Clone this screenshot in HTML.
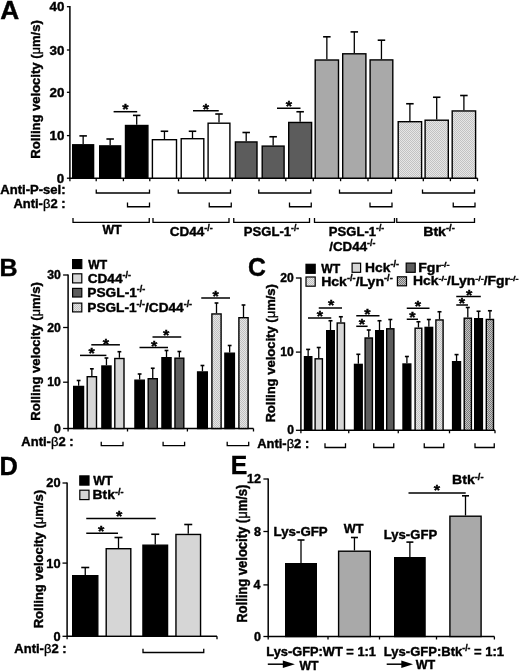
<!DOCTYPE html>
<html><head><meta charset="utf-8"><title>Rolling velocity figure</title>
<style>html,body{margin:0;padding:0;background:#fff;width:520px;height:671px;overflow:hidden}</style>
</head><body>
<svg width="520" height="671" viewBox="0 0 520 671" font-family='"Liberation Sans", Arial, Helvetica, sans-serif' style="display:block">
<defs>
<pattern id="pl" width="2" height="2" patternUnits="userSpaceOnUse"><rect width="2" height="2" fill="#e6e6e6"/><rect width="1" height="1" fill="#c2c2c2"/><rect x="1" y="1" width="1" height="1" fill="#c2c2c2"/></pattern>
<pattern id="pd" width="2" height="2" patternUnits="userSpaceOnUse"><rect width="2" height="2" fill="#c4c4c4"/><rect width="1" height="1" fill="#7a7a7a"/><rect x="1" y="1" width="1" height="1" fill="#7a7a7a"/></pattern>
</defs>
<rect width="520" height="671" fill="#fff"/>
<line x1="69.90" y1="6.10" x2="69.90" y2="178.90" stroke="#000" stroke-width="1.5"/>
<line x1="66.90" y1="6.70" x2="69.90" y2="6.70" stroke="#000" stroke-width="1.3"/>
<line x1="66.90" y1="50.00" x2="69.90" y2="50.00" stroke="#000" stroke-width="1.3"/>
<line x1="66.90" y1="92.30" x2="69.90" y2="92.30" stroke="#000" stroke-width="1.3"/>
<line x1="66.90" y1="135.60" x2="69.90" y2="135.60" stroke="#000" stroke-width="1.3"/>
<line x1="66.90" y1="178.20" x2="69.90" y2="178.20" stroke="#000" stroke-width="1.3"/>
<line x1="69.90" y1="178.20" x2="477.50" y2="178.20" stroke="#000" stroke-width="1.5"/>
<line x1="96.20" y1="178.20" x2="96.20" y2="181.20" stroke="#000" stroke-width="1.3"/>
<line x1="123.40" y1="178.20" x2="123.40" y2="181.20" stroke="#000" stroke-width="1.3"/>
<line x1="149.80" y1="178.20" x2="149.80" y2="181.20" stroke="#000" stroke-width="1.3"/>
<line x1="178.60" y1="178.20" x2="178.60" y2="181.20" stroke="#000" stroke-width="1.3"/>
<line x1="205.60" y1="178.20" x2="205.60" y2="181.20" stroke="#000" stroke-width="1.3"/>
<line x1="232.30" y1="178.20" x2="232.30" y2="181.20" stroke="#000" stroke-width="1.3"/>
<line x1="259.10" y1="178.20" x2="259.10" y2="181.20" stroke="#000" stroke-width="1.3"/>
<line x1="285.80" y1="178.20" x2="285.80" y2="181.20" stroke="#000" stroke-width="1.3"/>
<line x1="313.30" y1="178.20" x2="313.30" y2="181.20" stroke="#000" stroke-width="1.3"/>
<line x1="340.60" y1="178.20" x2="340.60" y2="181.20" stroke="#000" stroke-width="1.3"/>
<line x1="368.00" y1="178.20" x2="368.00" y2="181.20" stroke="#000" stroke-width="1.3"/>
<line x1="395.50" y1="178.20" x2="395.50" y2="181.20" stroke="#000" stroke-width="1.3"/>
<line x1="423.30" y1="178.20" x2="423.30" y2="181.20" stroke="#000" stroke-width="1.3"/>
<line x1="450.40" y1="178.20" x2="450.40" y2="181.20" stroke="#000" stroke-width="1.3"/>
<line x1="477.50" y1="178.20" x2="477.50" y2="181.20" stroke="#000" stroke-width="1.3"/>
<line x1="69.90" y1="178.20" x2="69.90" y2="181.20" stroke="#000" stroke-width="1.3"/>
<line x1="83.15" y1="144.10" x2="83.15" y2="135.90" stroke="#000" stroke-width="1.3"/>
<line x1="79.40" y1="135.90" x2="86.90" y2="135.90" stroke="#000" stroke-width="1.6"/>
<rect x="72.70" y="144.80" width="20.90" height="33.40" fill="#000" stroke="#000" stroke-width="1.4"/>
<line x1="110.15" y1="145.20" x2="110.15" y2="139.00" stroke="#000" stroke-width="1.3"/>
<line x1="106.40" y1="139.00" x2="113.90" y2="139.00" stroke="#000" stroke-width="1.6"/>
<rect x="99.70" y="145.90" width="20.90" height="32.30" fill="#000" stroke="#000" stroke-width="1.4"/>
<line x1="136.70" y1="124.80" x2="136.70" y2="115.40" stroke="#000" stroke-width="1.3"/>
<line x1="132.95" y1="115.40" x2="140.45" y2="115.40" stroke="#000" stroke-width="1.6"/>
<rect x="125.50" y="125.50" width="22.40" height="52.70" fill="#000" stroke="#000" stroke-width="1.4"/>
<line x1="164.45" y1="139.00" x2="164.45" y2="131.25" stroke="#000" stroke-width="1.3"/>
<line x1="160.70" y1="131.25" x2="168.20" y2="131.25" stroke="#000" stroke-width="1.6"/>
<rect x="152.40" y="139.70" width="24.10" height="38.50" fill="#fff" stroke="#000" stroke-width="1.4"/>
<line x1="192.50" y1="138.00" x2="192.50" y2="131.25" stroke="#000" stroke-width="1.3"/>
<line x1="188.75" y1="131.25" x2="196.25" y2="131.25" stroke="#000" stroke-width="1.6"/>
<rect x="181.20" y="138.70" width="22.60" height="39.50" fill="#fff" stroke="#000" stroke-width="1.4"/>
<line x1="219.00" y1="122.50" x2="219.00" y2="114.00" stroke="#000" stroke-width="1.3"/>
<line x1="215.25" y1="114.00" x2="222.75" y2="114.00" stroke="#000" stroke-width="1.6"/>
<rect x="208.10" y="123.20" width="21.80" height="55.00" fill="#fff" stroke="#000" stroke-width="1.4"/>
<line x1="246.20" y1="141.25" x2="246.20" y2="132.50" stroke="#000" stroke-width="1.3"/>
<line x1="242.45" y1="132.50" x2="249.95" y2="132.50" stroke="#000" stroke-width="1.6"/>
<rect x="235.40" y="141.95" width="21.60" height="36.25" fill="#5c5c5c" stroke="#000" stroke-width="1.4"/>
<line x1="273.15" y1="145.40" x2="273.15" y2="136.75" stroke="#000" stroke-width="1.3"/>
<line x1="269.40" y1="136.75" x2="276.90" y2="136.75" stroke="#000" stroke-width="1.6"/>
<rect x="262.20" y="146.10" width="21.90" height="32.10" fill="#5c5c5c" stroke="#000" stroke-width="1.4"/>
<line x1="300.15" y1="121.75" x2="300.15" y2="111.75" stroke="#000" stroke-width="1.3"/>
<line x1="296.40" y1="111.75" x2="303.90" y2="111.75" stroke="#000" stroke-width="1.6"/>
<rect x="288.70" y="122.45" width="22.90" height="55.75" fill="#5c5c5c" stroke="#000" stroke-width="1.4"/>
<line x1="326.85" y1="59.30" x2="326.85" y2="36.80" stroke="#000" stroke-width="1.3"/>
<line x1="323.10" y1="36.80" x2="330.60" y2="36.80" stroke="#000" stroke-width="1.6"/>
<rect x="315.20" y="60.00" width="23.30" height="118.20" fill="#a9a9a9" stroke="#000" stroke-width="1.4"/>
<line x1="354.30" y1="53.10" x2="354.30" y2="31.90" stroke="#000" stroke-width="1.3"/>
<line x1="350.55" y1="31.90" x2="358.05" y2="31.90" stroke="#000" stroke-width="1.6"/>
<rect x="342.70" y="53.80" width="23.20" height="124.40" fill="#a9a9a9" stroke="#000" stroke-width="1.4"/>
<line x1="381.45" y1="59.20" x2="381.45" y2="40.20" stroke="#000" stroke-width="1.3"/>
<line x1="377.70" y1="40.20" x2="385.20" y2="40.20" stroke="#000" stroke-width="1.6"/>
<rect x="370.10" y="59.90" width="22.70" height="118.30" fill="#a9a9a9" stroke="#000" stroke-width="1.4"/>
<line x1="409.90" y1="121.00" x2="409.90" y2="103.75" stroke="#000" stroke-width="1.3"/>
<line x1="406.15" y1="103.75" x2="413.65" y2="103.75" stroke="#000" stroke-width="1.6"/>
<rect x="398.20" y="121.70" width="23.40" height="56.50" fill="url(#pl)" stroke="#000" stroke-width="1.4"/>
<line x1="436.70" y1="119.50" x2="436.70" y2="97.25" stroke="#000" stroke-width="1.3"/>
<line x1="432.95" y1="97.25" x2="440.45" y2="97.25" stroke="#000" stroke-width="1.6"/>
<rect x="425.10" y="120.20" width="23.20" height="58.00" fill="url(#pl)" stroke="#000" stroke-width="1.4"/>
<line x1="463.90" y1="110.25" x2="463.90" y2="95.50" stroke="#000" stroke-width="1.3"/>
<line x1="460.15" y1="95.50" x2="467.65" y2="95.50" stroke="#000" stroke-width="1.6"/>
<rect x="452.20" y="110.95" width="23.40" height="67.25" fill="url(#pl)" stroke="#000" stroke-width="1.4"/>
<line x1="113.60" y1="111.70" x2="137.20" y2="111.70" stroke="#000" stroke-width="1.5"/>
<line x1="193.00" y1="110.75" x2="218.75" y2="110.75" stroke="#000" stroke-width="1.5"/>
<line x1="277.00" y1="108.25" x2="300.50" y2="108.25" stroke="#000" stroke-width="1.5"/>
<path d="M96.25,189.50 V193.00 H149.50 V189.50" stroke="#000" stroke-width="1.3" fill="none"/>
<path d="M178.25,189.50 V193.00 H230.50 V189.50" stroke="#000" stroke-width="1.3" fill="none"/>
<path d="M258.75,189.50 V193.00 H310.75 V189.50" stroke="#000" stroke-width="1.3" fill="none"/>
<path d="M339.50,189.50 V193.00 H391.50 V189.50" stroke="#000" stroke-width="1.3" fill="none"/>
<path d="M422.50,189.50 V193.00 H474.50 V189.50" stroke="#000" stroke-width="1.3" fill="none"/>
<path d="M127.50,202.55 V206.75 H149.50 V202.55" stroke="#000" stroke-width="1.3" fill="none"/>
<path d="M209.25,202.55 V206.75 H231.25 V202.55" stroke="#000" stroke-width="1.3" fill="none"/>
<path d="M289.50,202.55 V206.75 H311.25 V202.55" stroke="#000" stroke-width="1.3" fill="none"/>
<path d="M370.00,202.55 V206.75 H392.00 V202.55" stroke="#000" stroke-width="1.3" fill="none"/>
<path d="M453.25,202.55 V206.75 H475.00 V202.55" stroke="#000" stroke-width="1.3" fill="none"/>
<path d="M73.00,218.10 V222.30 H149.25 V218.10" stroke="#000" stroke-width="1.3" fill="none"/>
<path d="M153.00,218.10 V222.30 H229.00 V218.10" stroke="#000" stroke-width="1.3" fill="none"/>
<path d="M233.75,218.10 V222.30 H309.50 V218.10" stroke="#000" stroke-width="1.3" fill="none"/>
<path d="M314.50,218.10 V222.30 H394.50 V218.10" stroke="#000" stroke-width="1.3" fill="none"/>
<path d="M396.75,218.10 V222.30 H474.50 V218.10" stroke="#000" stroke-width="1.3" fill="none"/>
<line x1="68.10" y1="274.40" x2="68.10" y2="429.20" stroke="#000" stroke-width="1.5"/>
<line x1="63.10" y1="275.00" x2="68.10" y2="275.00" stroke="#000" stroke-width="1.3"/>
<line x1="63.10" y1="327.50" x2="68.10" y2="327.50" stroke="#000" stroke-width="1.3"/>
<line x1="63.10" y1="382.20" x2="68.10" y2="382.20" stroke="#000" stroke-width="1.3"/>
<line x1="63.10" y1="428.50" x2="68.10" y2="428.50" stroke="#000" stroke-width="1.3"/>
<line x1="68.10" y1="428.50" x2="253.50" y2="428.50" stroke="#000" stroke-width="1.5"/>
<line x1="127.50" y1="428.50" x2="127.50" y2="431.50" stroke="#000" stroke-width="1.3"/>
<line x1="187.40" y1="428.50" x2="187.40" y2="431.50" stroke="#000" stroke-width="1.3"/>
<line x1="253.50" y1="428.50" x2="253.50" y2="431.50" stroke="#000" stroke-width="1.3"/>
<line x1="68.10" y1="428.50" x2="68.10" y2="431.50" stroke="#000" stroke-width="1.3"/>
<rect x="72.60" y="259.60" width="9.20" height="8.90" fill="#000" stroke="#000" stroke-width="1.2"/>
<rect x="72.60" y="273.80" width="9.20" height="9.10" fill="#d6d6d6" stroke="#000" stroke-width="1.2"/>
<rect x="72.60" y="288.40" width="9.20" height="8.60" fill="#5c5c5c" stroke="#000" stroke-width="1.2"/>
<rect x="72.60" y="303.10" width="9.20" height="8.80" fill="url(#pl)" stroke="#000" stroke-width="1.2"/>
<line x1="78.62" y1="385.75" x2="78.62" y2="380.50" stroke="#000" stroke-width="1.3"/>
<line x1="76.72" y1="380.50" x2="80.53" y2="380.50" stroke="#000" stroke-width="1.6"/>
<rect x="73.70" y="386.45" width="9.85" height="42.05" fill="#000" stroke="#000" stroke-width="1.4"/>
<line x1="91.85" y1="376.00" x2="91.85" y2="368.80" stroke="#000" stroke-width="1.3"/>
<line x1="89.95" y1="368.80" x2="93.75" y2="368.80" stroke="#000" stroke-width="1.6"/>
<rect x="87.20" y="376.70" width="9.30" height="51.80" fill="#d6d6d6" stroke="#000" stroke-width="1.4"/>
<line x1="106.45" y1="365.30" x2="106.45" y2="358.00" stroke="#000" stroke-width="1.3"/>
<line x1="104.55" y1="358.00" x2="108.35" y2="358.00" stroke="#000" stroke-width="1.6"/>
<rect x="101.90" y="366.00" width="9.10" height="62.50" fill="#000" stroke="#000" stroke-width="1.4"/>
<line x1="119.40" y1="357.80" x2="119.40" y2="351.70" stroke="#000" stroke-width="1.3"/>
<line x1="117.50" y1="351.70" x2="121.30" y2="351.70" stroke="#000" stroke-width="1.6"/>
<rect x="114.80" y="358.50" width="9.20" height="70.00" fill="#d6d6d6" stroke="#000" stroke-width="1.4"/>
<line x1="139.62" y1="379.50" x2="139.62" y2="374.00" stroke="#000" stroke-width="1.3"/>
<line x1="137.72" y1="374.00" x2="141.53" y2="374.00" stroke="#000" stroke-width="1.6"/>
<rect x="134.95" y="380.20" width="9.35" height="48.30" fill="#000" stroke="#000" stroke-width="1.4"/>
<line x1="152.75" y1="378.00" x2="152.75" y2="368.25" stroke="#000" stroke-width="1.3"/>
<line x1="150.85" y1="368.25" x2="154.65" y2="368.25" stroke="#000" stroke-width="1.6"/>
<rect x="148.20" y="378.70" width="9.10" height="49.80" fill="#5c5c5c" stroke="#000" stroke-width="1.4"/>
<line x1="166.50" y1="357.00" x2="166.50" y2="350.50" stroke="#000" stroke-width="1.3"/>
<line x1="164.60" y1="350.50" x2="168.40" y2="350.50" stroke="#000" stroke-width="1.6"/>
<rect x="161.95" y="357.70" width="9.10" height="70.80" fill="#000" stroke="#000" stroke-width="1.4"/>
<line x1="179.38" y1="357.50" x2="179.38" y2="351.50" stroke="#000" stroke-width="1.3"/>
<line x1="177.47" y1="351.50" x2="181.28" y2="351.50" stroke="#000" stroke-width="1.6"/>
<rect x="174.95" y="358.20" width="8.85" height="70.30" fill="#5c5c5c" stroke="#000" stroke-width="1.4"/>
<line x1="202.45" y1="371.25" x2="202.45" y2="365.50" stroke="#000" stroke-width="1.3"/>
<line x1="200.55" y1="365.50" x2="204.35" y2="365.50" stroke="#000" stroke-width="1.6"/>
<rect x="197.60" y="371.95" width="9.70" height="56.55" fill="#000" stroke="#000" stroke-width="1.4"/>
<line x1="216.50" y1="313.25" x2="216.50" y2="303.00" stroke="#000" stroke-width="1.3"/>
<line x1="214.60" y1="303.00" x2="218.40" y2="303.00" stroke="#000" stroke-width="1.6"/>
<rect x="211.90" y="313.95" width="9.20" height="114.55" fill="url(#pl)" stroke="#000" stroke-width="1.4"/>
<line x1="229.65" y1="352.50" x2="229.65" y2="345.50" stroke="#000" stroke-width="1.3"/>
<line x1="227.75" y1="345.50" x2="231.55" y2="345.50" stroke="#000" stroke-width="1.6"/>
<rect x="224.90" y="353.20" width="9.50" height="75.30" fill="#000" stroke="#000" stroke-width="1.4"/>
<line x1="243.50" y1="317.00" x2="243.50" y2="305.00" stroke="#000" stroke-width="1.3"/>
<line x1="241.60" y1="305.00" x2="245.40" y2="305.00" stroke="#000" stroke-width="1.6"/>
<rect x="238.90" y="317.70" width="9.20" height="110.80" fill="url(#pl)" stroke="#000" stroke-width="1.4"/>
<line x1="80.00" y1="355.40" x2="106.40" y2="355.40" stroke="#000" stroke-width="1.5"/>
<line x1="91.30" y1="344.80" x2="119.90" y2="344.80" stroke="#000" stroke-width="1.5"/>
<line x1="139.50" y1="347.50" x2="168.00" y2="347.50" stroke="#000" stroke-width="1.5"/>
<line x1="152.50" y1="337.00" x2="181.25" y2="337.00" stroke="#000" stroke-width="1.5"/>
<line x1="201.25" y1="298.00" x2="230.00" y2="298.00" stroke="#000" stroke-width="1.5"/>
<path d="M101.25,441.70 V445.70 H123.00 V441.70" stroke="#000" stroke-width="1.3" fill="none"/>
<path d="M163.10,441.70 V445.70 H184.60 V441.70" stroke="#000" stroke-width="1.3" fill="none"/>
<path d="M227.20,441.70 V445.70 H248.70 V441.70" stroke="#000" stroke-width="1.3" fill="none"/>
<line x1="300.90" y1="277.40" x2="300.90" y2="431.00" stroke="#000" stroke-width="1.5"/>
<line x1="295.90" y1="278.00" x2="300.90" y2="278.00" stroke="#000" stroke-width="1.3"/>
<line x1="295.90" y1="352.10" x2="300.90" y2="352.10" stroke="#000" stroke-width="1.3"/>
<line x1="295.90" y1="430.30" x2="300.90" y2="430.30" stroke="#000" stroke-width="1.3"/>
<line x1="300.90" y1="430.30" x2="495.00" y2="430.30" stroke="#000" stroke-width="1.5"/>
<line x1="348.75" y1="430.30" x2="348.75" y2="433.30" stroke="#000" stroke-width="1.3"/>
<line x1="398.25" y1="430.30" x2="398.25" y2="433.30" stroke="#000" stroke-width="1.3"/>
<line x1="449.50" y1="430.30" x2="449.50" y2="433.30" stroke="#000" stroke-width="1.3"/>
<line x1="495.00" y1="430.30" x2="495.00" y2="433.30" stroke="#000" stroke-width="1.3"/>
<line x1="300.90" y1="430.30" x2="300.90" y2="433.30" stroke="#000" stroke-width="1.3"/>
<rect x="306.00" y="264.30" width="9.20" height="9.00" fill="#000" stroke="#000" stroke-width="1.2"/>
<rect x="352.10" y="263.20" width="8.50" height="9.10" fill="#d6d6d6" stroke="#000" stroke-width="1.2"/>
<rect x="406.20" y="263.10" width="9.00" height="9.20" fill="#5c5c5c" stroke="#000" stroke-width="1.2"/>
<rect x="306.00" y="277.00" width="9.20" height="9.20" fill="url(#pl)" stroke="#000" stroke-width="1.2"/>
<rect x="397.40" y="276.80" width="9.10" height="9.00" fill="url(#pd)" stroke="#000" stroke-width="1.2"/>
<line x1="308.15" y1="356.00" x2="308.15" y2="349.40" stroke="#000" stroke-width="1.3"/>
<line x1="306.15" y1="349.40" x2="310.15" y2="349.40" stroke="#000" stroke-width="1.6"/>
<rect x="304.50" y="356.70" width="7.30" height="73.60" fill="#000" stroke="#000" stroke-width="1.4"/>
<line x1="318.75" y1="358.10" x2="318.75" y2="347.50" stroke="#000" stroke-width="1.3"/>
<line x1="316.75" y1="347.50" x2="320.75" y2="347.50" stroke="#000" stroke-width="1.6"/>
<rect x="315.10" y="358.80" width="7.30" height="71.50" fill="#d6d6d6" stroke="#000" stroke-width="1.4"/>
<line x1="330.50" y1="330.00" x2="330.50" y2="320.75" stroke="#000" stroke-width="1.3"/>
<line x1="328.50" y1="320.75" x2="332.50" y2="320.75" stroke="#000" stroke-width="1.6"/>
<rect x="326.70" y="330.70" width="7.60" height="99.60" fill="#000" stroke="#000" stroke-width="1.4"/>
<line x1="340.85" y1="322.30" x2="340.85" y2="316.75" stroke="#000" stroke-width="1.3"/>
<line x1="338.85" y1="316.75" x2="342.85" y2="316.75" stroke="#000" stroke-width="1.6"/>
<rect x="337.20" y="323.00" width="7.30" height="107.30" fill="#d6d6d6" stroke="#000" stroke-width="1.4"/>
<line x1="358.35" y1="363.70" x2="358.35" y2="354.30" stroke="#000" stroke-width="1.3"/>
<line x1="356.35" y1="354.30" x2="360.35" y2="354.30" stroke="#000" stroke-width="1.6"/>
<rect x="354.50" y="364.40" width="7.70" height="65.90" fill="#000" stroke="#000" stroke-width="1.4"/>
<line x1="368.75" y1="337.30" x2="368.75" y2="330.00" stroke="#000" stroke-width="1.3"/>
<line x1="366.75" y1="330.00" x2="370.75" y2="330.00" stroke="#000" stroke-width="1.6"/>
<rect x="365.10" y="338.00" width="7.30" height="92.30" fill="#5c5c5c" stroke="#000" stroke-width="1.4"/>
<line x1="379.50" y1="330.00" x2="379.50" y2="320.75" stroke="#000" stroke-width="1.3"/>
<line x1="377.50" y1="320.75" x2="381.50" y2="320.75" stroke="#000" stroke-width="1.6"/>
<rect x="375.70" y="330.70" width="7.60" height="99.60" fill="#000" stroke="#000" stroke-width="1.4"/>
<line x1="390.30" y1="328.10" x2="390.30" y2="319.50" stroke="#000" stroke-width="1.3"/>
<line x1="388.30" y1="319.50" x2="392.30" y2="319.50" stroke="#000" stroke-width="1.6"/>
<rect x="386.70" y="328.80" width="7.20" height="101.50" fill="#5c5c5c" stroke="#000" stroke-width="1.4"/>
<line x1="406.90" y1="363.30" x2="406.90" y2="356.50" stroke="#000" stroke-width="1.3"/>
<line x1="404.90" y1="356.50" x2="408.90" y2="356.50" stroke="#000" stroke-width="1.6"/>
<rect x="403.00" y="364.00" width="7.80" height="66.30" fill="#000" stroke="#000" stroke-width="1.4"/>
<line x1="418.45" y1="327.50" x2="418.45" y2="321.75" stroke="#000" stroke-width="1.3"/>
<line x1="416.45" y1="321.75" x2="420.45" y2="321.75" stroke="#000" stroke-width="1.6"/>
<rect x="415.10" y="328.20" width="6.70" height="102.10" fill="url(#pl)" stroke="#000" stroke-width="1.4"/>
<line x1="428.85" y1="326.70" x2="428.85" y2="319.50" stroke="#000" stroke-width="1.3"/>
<line x1="426.85" y1="319.50" x2="430.85" y2="319.50" stroke="#000" stroke-width="1.6"/>
<rect x="425.10" y="327.40" width="7.50" height="102.90" fill="#000" stroke="#000" stroke-width="1.4"/>
<line x1="439.50" y1="319.25" x2="439.50" y2="311.75" stroke="#000" stroke-width="1.3"/>
<line x1="437.50" y1="311.75" x2="441.50" y2="311.75" stroke="#000" stroke-width="1.6"/>
<rect x="435.90" y="319.95" width="7.20" height="110.35" fill="url(#pl)" stroke="#000" stroke-width="1.4"/>
<line x1="456.55" y1="361.00" x2="456.55" y2="354.60" stroke="#000" stroke-width="1.3"/>
<line x1="454.55" y1="354.60" x2="458.55" y2="354.60" stroke="#000" stroke-width="1.6"/>
<rect x="452.60" y="361.70" width="7.90" height="68.60" fill="#000" stroke="#000" stroke-width="1.4"/>
<line x1="467.80" y1="317.50" x2="467.80" y2="307.50" stroke="#000" stroke-width="1.3"/>
<line x1="465.80" y1="307.50" x2="469.80" y2="307.50" stroke="#000" stroke-width="1.6"/>
<rect x="464.20" y="318.20" width="7.20" height="112.10" fill="url(#pd)" stroke="#000" stroke-width="1.4"/>
<line x1="478.55" y1="318.00" x2="478.55" y2="311.25" stroke="#000" stroke-width="1.3"/>
<line x1="476.55" y1="311.25" x2="480.55" y2="311.25" stroke="#000" stroke-width="1.6"/>
<rect x="474.70" y="318.70" width="7.70" height="111.60" fill="#000" stroke="#000" stroke-width="1.4"/>
<line x1="489.90" y1="318.75" x2="489.90" y2="310.75" stroke="#000" stroke-width="1.3"/>
<line x1="487.90" y1="310.75" x2="491.90" y2="310.75" stroke="#000" stroke-width="1.6"/>
<rect x="486.30" y="319.45" width="7.20" height="110.85" fill="url(#pd)" stroke="#000" stroke-width="1.4"/>
<line x1="308.00" y1="318.00" x2="331.25" y2="318.00" stroke="#000" stroke-width="1.5"/>
<line x1="318.75" y1="308.00" x2="342.00" y2="308.00" stroke="#000" stroke-width="1.5"/>
<line x1="356.25" y1="326.30" x2="367.60" y2="326.30" stroke="#000" stroke-width="1.5"/>
<line x1="356.25" y1="315.75" x2="379.50" y2="315.75" stroke="#000" stroke-width="1.5"/>
<line x1="406.75" y1="319.25" x2="418.00" y2="319.25" stroke="#000" stroke-width="1.5"/>
<line x1="406.75" y1="308.25" x2="429.50" y2="308.25" stroke="#000" stroke-width="1.5"/>
<line x1="456.25" y1="305.00" x2="468.00" y2="305.00" stroke="#000" stroke-width="1.5"/>
<line x1="456.25" y1="296.50" x2="480.80" y2="296.50" stroke="#000" stroke-width="1.5"/>
<path d="M325.00,443.30 V447.50 H345.50 V443.30" stroke="#000" stroke-width="1.3" fill="none"/>
<path d="M373.75,443.30 V447.50 H393.75 V443.30" stroke="#000" stroke-width="1.3" fill="none"/>
<path d="M424.25,443.30 V447.50 H443.75 V443.30" stroke="#000" stroke-width="1.3" fill="none"/>
<path d="M475.00,443.30 V447.50 H494.25 V443.30" stroke="#000" stroke-width="1.3" fill="none"/>
<line x1="67.10" y1="482.40" x2="67.10" y2="637.00" stroke="#000" stroke-width="1.5"/>
<line x1="62.50" y1="483.00" x2="67.10" y2="483.00" stroke="#000" stroke-width="1.3"/>
<line x1="62.50" y1="563.10" x2="67.10" y2="563.10" stroke="#000" stroke-width="1.3"/>
<line x1="62.50" y1="636.30" x2="67.10" y2="636.30" stroke="#000" stroke-width="1.3"/>
<line x1="67.10" y1="636.30" x2="217.00" y2="636.30" stroke="#000" stroke-width="1.5"/>
<line x1="217.00" y1="636.30" x2="217.00" y2="639.30" stroke="#000" stroke-width="1.3"/>
<line x1="67.10" y1="636.30" x2="67.10" y2="639.30" stroke="#000" stroke-width="1.3"/>
<rect x="79.80" y="475.90" width="9.20" height="9.20" fill="#000" stroke="#000" stroke-width="1.2"/>
<rect x="79.80" y="490.20" width="9.20" height="9.40" fill="#d6d6d6" stroke="#000" stroke-width="1.2"/>
<line x1="85.25" y1="575.00" x2="85.25" y2="567.50" stroke="#000" stroke-width="1.3"/>
<line x1="81.25" y1="567.50" x2="89.25" y2="567.50" stroke="#000" stroke-width="1.6"/>
<rect x="72.70" y="575.70" width="25.10" height="60.60" fill="#000" stroke="#000" stroke-width="1.4"/>
<line x1="118.50" y1="548.00" x2="118.50" y2="537.50" stroke="#000" stroke-width="1.3"/>
<line x1="114.50" y1="537.50" x2="122.50" y2="537.50" stroke="#000" stroke-width="1.6"/>
<rect x="106.20" y="548.70" width="24.60" height="87.60" fill="#d6d6d6" stroke="#000" stroke-width="1.4"/>
<line x1="155.25" y1="544.50" x2="155.25" y2="534.25" stroke="#000" stroke-width="1.3"/>
<line x1="151.25" y1="534.25" x2="159.25" y2="534.25" stroke="#000" stroke-width="1.6"/>
<rect x="142.95" y="545.20" width="24.60" height="91.10" fill="#000" stroke="#000" stroke-width="1.4"/>
<line x1="188.25" y1="533.75" x2="188.25" y2="524.50" stroke="#000" stroke-width="1.3"/>
<line x1="184.25" y1="524.50" x2="192.25" y2="524.50" stroke="#000" stroke-width="1.6"/>
<rect x="175.95" y="534.45" width="24.60" height="101.85" fill="#d6d6d6" stroke="#000" stroke-width="1.4"/>
<line x1="86.25" y1="533.25" x2="118.00" y2="533.25" stroke="#000" stroke-width="1.5"/>
<line x1="86.25" y1="518.60" x2="155.75" y2="518.60" stroke="#000" stroke-width="1.5"/>
<path d="M143.00,648.70 V652.50 H203.75 V648.70" stroke="#000" stroke-width="1.3" fill="none"/>
<line x1="268.20" y1="478.40" x2="268.20" y2="637.20" stroke="#000" stroke-width="1.5"/>
<line x1="263.40" y1="479.00" x2="268.20" y2="479.00" stroke="#000" stroke-width="1.3"/>
<line x1="263.40" y1="531.50" x2="268.20" y2="531.50" stroke="#000" stroke-width="1.3"/>
<line x1="263.40" y1="584.90" x2="268.20" y2="584.90" stroke="#000" stroke-width="1.3"/>
<line x1="263.40" y1="636.50" x2="268.20" y2="636.50" stroke="#000" stroke-width="1.3"/>
<line x1="268.20" y1="636.50" x2="494.40" y2="636.50" stroke="#000" stroke-width="1.5"/>
<line x1="328.00" y1="636.50" x2="328.00" y2="639.50" stroke="#000" stroke-width="1.3"/>
<line x1="379.50" y1="636.50" x2="379.50" y2="639.50" stroke="#000" stroke-width="1.3"/>
<line x1="436.50" y1="636.50" x2="436.50" y2="639.50" stroke="#000" stroke-width="1.3"/>
<line x1="494.40" y1="636.50" x2="494.40" y2="639.50" stroke="#000" stroke-width="1.3"/>
<line x1="268.20" y1="636.50" x2="268.20" y2="639.50" stroke="#000" stroke-width="1.3"/>
<line x1="301.00" y1="563.00" x2="301.00" y2="540.00" stroke="#000" stroke-width="1.3"/>
<line x1="297.50" y1="540.00" x2="304.50" y2="540.00" stroke="#000" stroke-width="1.6"/>
<rect x="285.70" y="563.70" width="30.60" height="72.80" fill="#000" stroke="#000" stroke-width="1.4"/>
<line x1="354.45" y1="550.50" x2="354.45" y2="537.50" stroke="#000" stroke-width="1.3"/>
<line x1="350.95" y1="537.50" x2="357.95" y2="537.50" stroke="#000" stroke-width="1.6"/>
<rect x="338.60" y="551.20" width="31.70" height="85.30" fill="#a9a9a9" stroke="#000" stroke-width="1.4"/>
<line x1="409.88" y1="557.00" x2="409.88" y2="542.10" stroke="#000" stroke-width="1.3"/>
<line x1="406.38" y1="542.10" x2="413.38" y2="542.10" stroke="#000" stroke-width="1.6"/>
<rect x="394.70" y="557.70" width="30.35" height="78.80" fill="#000" stroke="#000" stroke-width="1.4"/>
<line x1="465.50" y1="515.50" x2="465.50" y2="495.80" stroke="#000" stroke-width="1.3"/>
<line x1="462.00" y1="495.80" x2="469.00" y2="495.80" stroke="#000" stroke-width="1.6"/>
<rect x="449.90" y="516.20" width="31.20" height="120.30" fill="#a9a9a9" stroke="#000" stroke-width="1.4"/>
<line x1="408.50" y1="492.90" x2="465.70" y2="492.90" stroke="#000" stroke-width="1.5"/>
<line x1="267.80" y1="664.20" x2="283.80" y2="664.20" stroke="#000" stroke-width="1.5"/>
<path d="M282.80,660.5 L294.90,664.2 L282.80,667.9 Z" fill="#000"/>
<line x1="386.70" y1="664.20" x2="402.30" y2="664.20" stroke="#000" stroke-width="1.5"/>
<path d="M401.30,660.5 L413.00,664.2 L401.30,667.9 Z" fill="#000"/>
<text transform="translate(0.24 18.60) scale(1.051 1.026)" font-size="25" font-weight="bold" stroke="#000" stroke-width="0.385">A</text>
<text transform="translate(49.45 11.30) scale(1.031 1.031)" font-size="13" font-weight="bold" stroke="#000" stroke-width="0.388">40</text>
<text transform="translate(49.45 54.60) scale(1.031 1.031)" font-size="13" font-weight="bold" stroke="#000" stroke-width="0.388">30</text>
<text transform="translate(49.45 96.90) scale(1.031 1.031)" font-size="13" font-weight="bold" stroke="#000" stroke-width="0.388">20</text>
<text transform="translate(49.45 140.20) scale(1.031 1.031)" font-size="13" font-weight="bold" stroke="#000" stroke-width="0.388">10</text>
<text transform="translate(56.79 182.80) scale(1.031 1.031)" font-size="13" font-weight="bold" stroke="#000" stroke-width="0.388">0</text>
<text transform="translate(39.90 158.68) scale(0.992 1.002) rotate(-90)" font-size="13" font-weight="bold" stroke="#000" stroke-width="0.401">Rolling velocity (<tspan font-weight="normal">μ</tspan>m/s)</text>
<text transform="translate(122.27 114.23) scale(1.012 0.867)" font-size="16" font-weight="bold" stroke="#000" stroke-width="0.426">*</text>
<text transform="translate(202.77 113.93) scale(1.012 0.867)" font-size="16" font-weight="bold" stroke="#000" stroke-width="0.426">*</text>
<text transform="translate(285.77 110.68) scale(1.012 0.867)" font-size="16" font-weight="bold" stroke="#000" stroke-width="0.426">*</text>
<text transform="translate(0.32 194.40) scale(1.004 1.014)" font-size="13" font-weight="bold" stroke="#000" stroke-width="0.397">Anti-P-sel:</text>
<text transform="translate(13.43 208.20) scale(0.998 1.014)" font-size="13" font-weight="bold" stroke="#000" stroke-width="0.398">Anti-<tspan font-weight="normal">β</tspan>2 :</text>
<text transform="translate(102.40 233.50) scale(0.954 1.025)" font-size="13" font-weight="bold" stroke="#000" stroke-width="0.404">WT</text>
<text transform="translate(169.78 235.90) scale(1.040 1.048)" font-size="13" font-weight="bold" stroke="#000" stroke-width="0.383">CD44<tspan baseline-shift="4.6" font-size="8.5">-/-</tspan></text>
<text transform="translate(243.87 236.00) scale(1.005 1.025)" font-size="13" font-weight="bold" stroke="#000" stroke-width="0.394">PSGL-1<tspan baseline-shift="4.6" font-size="8.5">-/-</tspan></text>
<text transform="translate(328.87 236.00) scale(1.005 1.025)" font-size="13" font-weight="bold" stroke="#000" stroke-width="0.394">PSGL-1<tspan baseline-shift="4.6" font-size="8.5">-/-</tspan></text>
<text transform="translate(329.27 250.60) scale(1.028 1.054)" font-size="13" font-weight="bold" stroke="#000" stroke-width="0.384">/CD44<tspan baseline-shift="4.6" font-size="8.5">-/-</tspan></text>
<text transform="translate(423.14 236.30) scale(1.092 1.025)" font-size="13" font-weight="bold" stroke="#000" stroke-width="0.378">Btk<tspan baseline-shift="4.6" font-size="8.5">-/-</tspan></text>
<text transform="translate(-0.62 275.60) scale(1.000 0.977)" font-size="25" font-weight="bold" stroke="#000" stroke-width="0.405">B</text>
<text transform="translate(47.19 279.20) scale(1.018 1.018)" font-size="12" font-weight="bold" stroke="#000" stroke-width="0.393">30</text>
<text transform="translate(47.19 331.70) scale(1.018 1.018)" font-size="12" font-weight="bold" stroke="#000" stroke-width="0.393">20</text>
<text transform="translate(47.19 386.40) scale(1.018 1.018)" font-size="12" font-weight="bold" stroke="#000" stroke-width="0.393">10</text>
<text transform="translate(54.06 432.70) scale(1.018 1.018)" font-size="12" font-weight="bold" stroke="#000" stroke-width="0.393">0</text>
<text transform="translate(39.90 420.68) scale(0.992 1.003) rotate(-90)" font-size="13" font-weight="bold" stroke="#000" stroke-width="0.401">Rolling velocity (<tspan font-weight="normal">μ</tspan>m/s)</text>
<text transform="translate(88.20 268.50) scale(0.934 0.992)" font-size="13" font-weight="bold" stroke="#000" stroke-width="0.415">WT</text>
<text transform="translate(87.67 282.60) scale(1.050 0.992)" font-size="13" font-weight="bold" stroke="#000" stroke-width="0.392">CD44<tspan baseline-shift="4.6" font-size="8.5">-/-</tspan></text>
<text transform="translate(87.28 296.90) scale(1.057 0.980)" font-size="13" font-weight="bold" stroke="#000" stroke-width="0.393">PSGL-1<tspan baseline-shift="4.6" font-size="8.5">-/-</tspan></text>
<text transform="translate(87.28 311.60) scale(1.051 0.980)" font-size="13" font-weight="bold" stroke="#000" stroke-width="0.394">PSGL-1<tspan baseline-shift="4.6" font-size="8.5">-/-</tspan>/CD44<tspan baseline-shift="4.6" font-size="8.5">-/-</tspan></text>
<text transform="translate(88.57 358.43) scale(1.012 0.867)" font-size="16" font-weight="bold" stroke="#000" stroke-width="0.426">*</text>
<text transform="translate(102.67 348.83) scale(1.012 0.867)" font-size="16" font-weight="bold" stroke="#000" stroke-width="0.426">*</text>
<text transform="translate(151.02 350.68) scale(1.012 0.867)" font-size="16" font-weight="bold" stroke="#000" stroke-width="0.426">*</text>
<text transform="translate(163.02 339.93) scale(1.012 0.867)" font-size="16" font-weight="bold" stroke="#000" stroke-width="0.426">*</text>
<text transform="translate(212.52 301.18) scale(1.012 0.867)" font-size="16" font-weight="bold" stroke="#000" stroke-width="0.426">*</text>
<text transform="translate(21.33 445.80) scale(1.000 1.025)" font-size="13" font-weight="bold" stroke="#000" stroke-width="0.395">Anti-<tspan font-weight="normal">β</tspan>2 :</text>
<text transform="translate(248.01 275.80) scale(0.989 1.003)" font-size="25" font-weight="bold" stroke="#000" stroke-width="0.402">C</text>
<text transform="translate(280.35 282.15) scale(1.006 1.006)" font-size="12" font-weight="bold" stroke="#000" stroke-width="0.398">20</text>
<text transform="translate(280.35 356.25) scale(1.006 1.006)" font-size="12" font-weight="bold" stroke="#000" stroke-width="0.398">10</text>
<text transform="translate(287.14 434.45) scale(1.006 1.006)" font-size="12" font-weight="bold" stroke="#000" stroke-width="0.398">0</text>
<text transform="translate(275.00 422.58) scale(1.037 1.003) rotate(-90)" font-size="13" font-weight="bold" stroke="#000" stroke-width="0.392">Rolling velocity (<tspan font-weight="normal">μ</tspan>m/s)</text>
<text transform="translate(321.30 273.20) scale(0.939 0.980)" font-size="13" font-weight="bold" stroke="#000" stroke-width="0.417">WT</text>
<text transform="translate(365.07 272.10) scale(1.064 1.003)" font-size="13" font-weight="bold" stroke="#000" stroke-width="0.387">Hck<tspan baseline-shift="4.6" font-size="8.5">-/-</tspan></text>
<text transform="translate(418.25 271.60) scale(1.081 0.935)" font-size="13" font-weight="bold" stroke="#000" stroke-width="0.397">Fgr<tspan baseline-shift="4.6" font-size="8.5">-/-</tspan></text>
<text transform="translate(321.15 286.00) scale(1.082 0.992)" font-size="13" font-weight="bold" stroke="#000" stroke-width="0.386">Hck<tspan baseline-shift="4.6" font-size="8.5">-/-</tspan>/Lyn<tspan baseline-shift="4.6" font-size="8.5">-/-</tspan></text>
<text transform="translate(413.06 285.20) scale(1.069 0.935)" font-size="13" font-weight="bold" stroke="#000" stroke-width="0.399">Hck<tspan baseline-shift="4.6" font-size="8.5">-/-</tspan>/Lyn<tspan baseline-shift="4.6" font-size="8.5">-/-</tspan>/Fgr<tspan baseline-shift="4.6" font-size="8.5">-/-</tspan></text>
<text transform="translate(316.77 321.43) scale(1.012 0.867)" font-size="16" font-weight="bold" stroke="#000" stroke-width="0.426">*</text>
<text transform="translate(328.02 310.18) scale(1.012 0.867)" font-size="16" font-weight="bold" stroke="#000" stroke-width="0.426">*</text>
<text transform="translate(358.77 329.43) scale(1.012 0.867)" font-size="16" font-weight="bold" stroke="#000" stroke-width="0.426">*</text>
<text transform="translate(364.27 318.93) scale(1.012 0.867)" font-size="16" font-weight="bold" stroke="#000" stroke-width="0.426">*</text>
<text transform="translate(409.27 321.93) scale(1.012 0.867)" font-size="16" font-weight="bold" stroke="#000" stroke-width="0.426">*</text>
<text transform="translate(414.77 310.68) scale(1.012 0.867)" font-size="16" font-weight="bold" stroke="#000" stroke-width="0.426">*</text>
<text transform="translate(458.77 308.18) scale(1.012 0.867)" font-size="16" font-weight="bold" stroke="#000" stroke-width="0.426">*</text>
<text transform="translate(465.97 300.03) scale(1.012 0.867)" font-size="16" font-weight="bold" stroke="#000" stroke-width="0.426">*</text>
<text transform="translate(257.13 448.30) scale(0.998 1.025)" font-size="13" font-weight="bold" stroke="#000" stroke-width="0.395">Anti-<tspan font-weight="normal">β</tspan>2 :</text>
<text transform="translate(-0.40 474.50) scale(1.018 1.014)" font-size="25" font-weight="bold" stroke="#000" stroke-width="0.394">D</text>
<text transform="translate(46.27 487.40) scale(1.067 1.067)" font-size="12" font-weight="bold" stroke="#000" stroke-width="0.375">20</text>
<text transform="translate(46.27 567.50) scale(1.067 1.067)" font-size="12" font-weight="bold" stroke="#000" stroke-width="0.375">10</text>
<text transform="translate(53.47 640.70) scale(1.067 1.067)" font-size="12" font-weight="bold" stroke="#000" stroke-width="0.375">0</text>
<text transform="translate(43.20 628.28) scale(1.003 1.002) rotate(-90)" font-size="13" font-weight="bold" stroke="#000" stroke-width="0.399">Rolling velocity (<tspan font-weight="normal">μ</tspan>m/s)</text>
<text transform="translate(93.20 484.60) scale(0.964 0.992)" font-size="13" font-weight="bold" stroke="#000" stroke-width="0.409">WT</text>
<text transform="translate(92.57 499.40) scale(1.067 0.992)" font-size="13" font-weight="bold" stroke="#000" stroke-width="0.389">Btk<tspan baseline-shift="4.6" font-size="8.5">-/-</tspan></text>
<text transform="translate(98.02 536.43) scale(1.012 0.867)" font-size="16" font-weight="bold" stroke="#000" stroke-width="0.426">*</text>
<text transform="translate(116.02 521.43) scale(1.012 0.867)" font-size="16" font-weight="bold" stroke="#000" stroke-width="0.426">*</text>
<text transform="translate(14.32 652.70) scale(1.001 1.037)" font-size="13" font-weight="bold" stroke="#000" stroke-width="0.393">Anti-<tspan font-weight="normal">β</tspan>2 :</text>
<text transform="translate(230.69 474.20) scale(0.991 1.032)" font-size="25" font-weight="bold" stroke="#000" stroke-width="0.395">E</text>
<text transform="translate(247.08 483.30) scale(1.042 1.042)" font-size="12" font-weight="bold" stroke="#000" stroke-width="0.384">12</text>
<text transform="translate(253.98 535.80) scale(1.042 1.042)" font-size="12" font-weight="bold" stroke="#000" stroke-width="0.384">8</text>
<text transform="translate(253.59 589.20) scale(1.042 1.042)" font-size="12" font-weight="bold" stroke="#000" stroke-width="0.384">4</text>
<text transform="translate(254.12 640.80) scale(1.042 1.042)" font-size="12" font-weight="bold" stroke="#000" stroke-width="0.384">0</text>
<text transform="translate(246.60 622.78) scale(1.070 1.000) rotate(-90)" font-size="13" font-weight="bold" stroke="#000" stroke-width="0.386">Rolling velocity (<tspan font-weight="normal">μ</tspan>m/s)</text>
<text transform="translate(433.87 495.43) scale(1.012 0.867)" font-size="16" font-weight="bold" stroke="#000" stroke-width="0.426">*</text>
<text transform="translate(273.61 535.70) scale(1.023 0.992)" font-size="13" font-weight="bold" stroke="#000" stroke-width="0.397">Lys-GFP</text>
<text transform="translate(343.70 533.30) scale(0.974 0.980)" font-size="13" font-weight="bold" stroke="#000" stroke-width="0.409">WT</text>
<text transform="translate(383.82 538.70) scale(1.007 0.946)" font-size="13" font-weight="bold" stroke="#000" stroke-width="0.409">Lys-GFP</text>
<text transform="translate(452.05 484.30) scale(1.085 1.003)" font-size="13" font-weight="bold" stroke="#000" stroke-width="0.383">Btk<tspan baseline-shift="4.6" font-size="8.5">-/-</tspan></text>
<text transform="translate(266.34 655.50) scale(0.987 0.969)" font-size="13" font-weight="bold" stroke="#000" stroke-width="0.409">Lys-GFP:WT = 1:1</text>
<text transform="translate(383.82 656.10) scale(1.004 1.025)" font-size="13" font-weight="bold" stroke="#000" stroke-width="0.394">Lys-GFP:Btk<tspan baseline-shift="4.6" font-size="8.5">-/-</tspan> = 1:1</text>
<text transform="translate(299.50 669.50) scale(0.944 1.014)" font-size="13" font-weight="bold" stroke="#000" stroke-width="0.409">WT</text>
<text transform="translate(415.70 669.30) scale(0.969 1.025)" font-size="13" font-weight="bold" stroke="#000" stroke-width="0.401">WT</text>
</svg>
</body></html>
